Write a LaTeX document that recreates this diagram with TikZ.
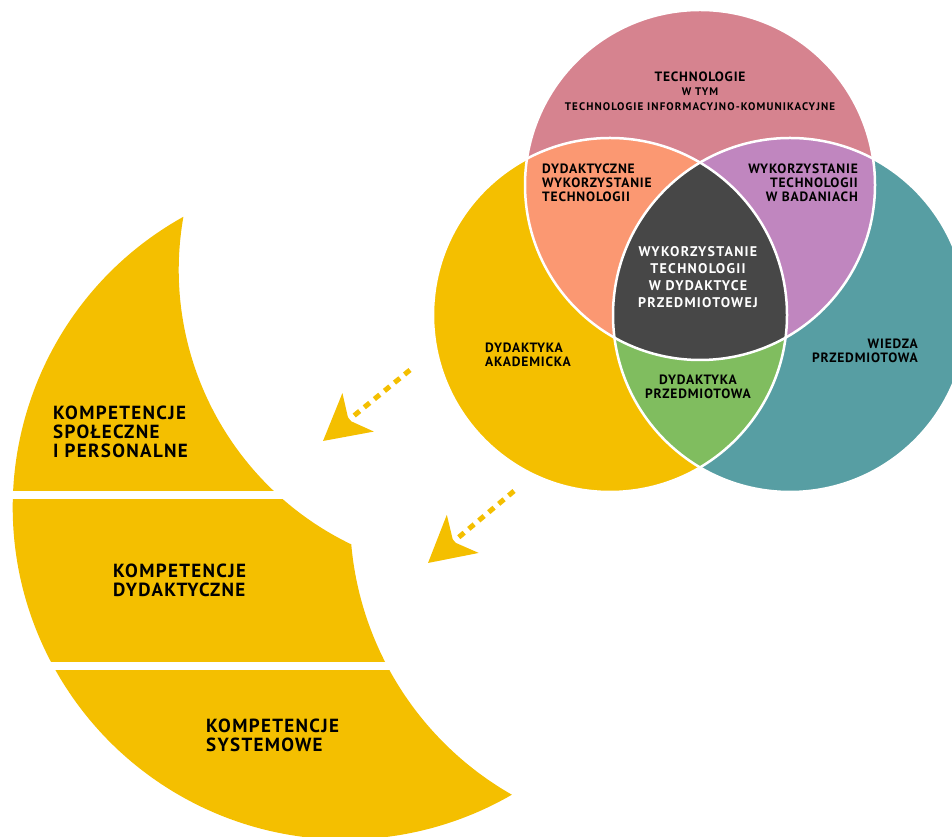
\documentclass[tikz,border=0pt]{standalone}
\usepackage{fontspec}
\setmainfont{PT Sans}
\usetikzlibrary{arrows.meta}

\definecolor{zolty}{RGB}{244,191,0}
\definecolor{rozowy}{RGB}{214,131,143}
\definecolor{morski}{RGB}{87,158,163}
\definecolor{lososiowy}{RGB}{251,152,114}
\definecolor{fioletowy}{RGB}{192,134,191}
\definecolor{zielony}{RGB}{128,189,95}
\definecolor{grafit}{RGB}{71,71,71}

\begin{document}
\begin{tikzpicture}[x=1pt,y=1pt,
  lbl/.style={font=\bfseries\fontsize{13.5}{14}\selectfont\addfontfeature{LetterSpace=6},inner sep=0pt},
  komp/.style={font=\bfseries\fontsize{19}{19}\selectfont\addfontfeature{LetterSpace=7},inner sep=0pt,align=left,anchor=west},
  ring/.style={draw=white,line width=2.5pt},
  strzalka/.style={zolty,line width=5pt,dash pattern=on 7pt off 6pt,
    -{Stealth[length=45pt,width=49pt,inset=12pt]}}]
\useasboundingbox (0,0) rectangle (952,837);

% sierp kompetencji
\fill[zolty] (183,620) arc[start angle=119.2,end angle=300.1,radius=332.4pt]
  arc[start angle=240.3,end angle=185.06,radius=320.8pt]
  arc[start angle=244.3,end angle=169.97,radius=304.6pt] -- cycle;
\fill[white] (0,338) rectangle (440,346);
\fill[white] (0,167) rectangle (440,175);

\node[komp] (spoleczne) at (53,405) {KOMPETENCJE\\SPOŁECZNE\\I PERSONALNE};
\node[komp] (dydaktyczne) at (113,257) {KOMPETENCJE\\DYDAKTYCZNE};
\node[komp] (systemowe) at (206,102) {KOMPETENCJE\\SYSTEMOWE};

% diagram Venna
\coordinate (akad) at (610,522);
\coordinate (wiedza) at (790,522);
\coordinate (tech) at (700,652);
\fill[zolty] (akad) circle[radius=177pt];
\fill[morski] (wiedza) circle[radius=177pt];
\fill[rozowy] (tech) circle[radius=175pt];
\begin{scope}
\clip (akad) circle[radius=177pt];
\fill[lososiowy] (tech) circle[radius=175pt];
\fill[zielony] (wiedza) circle[radius=177pt];
\end{scope}
\begin{scope}
\clip (wiedza) circle[radius=177pt];
\fill[fioletowy] (tech) circle[radius=175pt];
\end{scope}
\begin{scope}
\clip (akad) circle[radius=177pt];
\clip (wiedza) circle[radius=177pt];
\fill[grafit] (tech) circle[radius=175pt];
\end{scope}
\draw[ring] (akad) circle[radius=177pt];
\draw[ring] (wiedza) circle[radius=177pt];
\draw[ring] (tech) circle[radius=175pt];

\node[lbl] (technologie) at (700,760) {TECHNOLOGIE};
\node[lbl,font=\bfseries\fontsize{11}{10}\selectfont\addfontfeature{LetterSpace=10}] (wtym) at (700,745) {W TYM};
\node[lbl,font=\bfseries\fontsize{11}{10}\selectfont\addfontfeature{LetterSpace=10}] (tik) at (700,730) {TECHNOLOGIE INFORMACYJNO-KOMUNIKACYJNE};
\node[lbl,align=left,anchor=west] (dydwyk) at (542,654) {DYDAKTYCZNE\\WYKORZYSTANIE\\TECHNOLOGII};
\node[lbl,align=right,anchor=east] (badania) at (858,654) {WYKORZYSTANIE\\TECHNOLOGII\\W BADANIACH};
\node[lbl,align=center,text=white,font=\bfseries\fontsize{14}{17}\selectfont\addfontfeature{LetterSpace=9}] (centrum) at (698,560) {WYKORZYSTANIE\\TECHNOLOGII\\W DYDAKTYCE\\PRZEDMIOTOWEJ};
\node[lbl,align=left,anchor=west] (akademicka) at (485,482) {DYDAKTYKA\\AKADEMICKA};
\node[lbl,align=right,anchor=east] (wiedzaprz) at (918,486) {WIEDZA\\PRZEDMIOTOWA};
\node[lbl,align=center] (dydprz) at (698,450) {DYDAKTYKA\\PRZEDMIOTOWA};

% strzalki
\coordinate (s1) at (410,467);
\coordinate (k1) at (323,396);
\coordinate (s2) at (514,346);
\coordinate (k2) at (428,274);
\draw[strzalka] (s1) -- (k1);
\draw[strzalka] (s2) -- (k2);
\end{tikzpicture}
\end{document}
